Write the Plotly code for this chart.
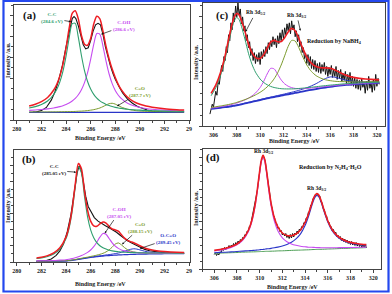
import plotly.graph_objects as go

W, H = 392, 294
FONT = "Liberation Serif"
RED = "#ee1d23"; BLACK = "#141414"; GREEN = "#2f9e6e"; MAGENTA = "#c64cf0"
OLIVE = "#7b9b2c"; BLUE = "#2a35c8"; DGREEN = "#4d9f55"; AX = "#444444"

# ---------------- panel (a) ----------------
a_x = [281.0, 281.5, 282.0, 282.5, 283.0, 283.25, 283.5, 283.75, 284.0, 284.25, 284.5, 284.75,
       285.0, 285.25, 285.5, 285.75, 286.0, 286.25, 286.5, 286.75, 287.0, 287.25, 287.5, 287.75,
       288.0, 288.25, 288.5, 289.0, 289.5, 290.0, 290.5, 291.0, 292.0, 293.0, 293.6]
a_base_x = [281.0, 293.6]
a_base = [7.3, 7.3]
a_cc = [11.5, 12.8, 14.9, 18.2, 24.4, 29.3, 36.5, 46.8, 61.1, 78.3, 92.1, 92.4, 79.0, 61.7, 47.3, 36.8,
        29.6, 24.5, 20.9, 18.3, 16.4, 14.9, 13.8, 12.9, 12.1, 11.5, 11.1, 10.3, 9.8, 9.4, 9.1, 8.9, 8.5, 8.3, 8.2]
a_coh = [9.2, 9.6, 10.0, 10.6, 11.5, 12.1, 12.8, 13.7, 14.8, 16.3, 18.2, 20.7, 24.2, 29.0, 35.8, 45.3,
         58.0, 72.4, 82.7, 82.0, 70.7, 56.3, 44.0, 34.8, 28.3, 23.7, 20.4, 16.1, 13.6, 12.0, 11.0, 10.3, 9.4, 8.8, 8.6]
a_co = [7.7, 7.7, 7.7, 7.7, 7.8, 7.8, 7.9, 7.9, 8.0, 8.0, 8.1, 8.2, 8.4, 8.5, 8.7, 9.0, 9.4, 9.9, 10.6,
        11.5, 12.8, 14.3, 15.6, 16.0, 15.2, 13.7, 12.3, 10.3, 9.2, 8.6, 8.3, 8.1, 7.9, 7.8, 7.7]
a_fit = [13.4, 15.1, 17.6, 21.5, 28.7, 34.2, 42.2, 53.4, 68.9, 87.6, 102.0, 104.5, 96.6, 81.0, 72.5, 71.5,
         78.0, 91.8, 99.2, 96.8, 84.9, 70.5, 58.4, 48.7, 40.6, 33.9, 28.8, 21.7, 17.6, 15.0, 13.4, 12.3, 10.8, 9.9, 9.5]
a_data_x = [281.3, 281.6, 282.0, 282.4, 282.8, 283.1, 283.4, 283.7, 284.0, 284.3, 284.5, 284.65, 284.8,
            285.0, 285.2, 285.4, 285.6, 285.8, 286.0, 286.2, 286.4, 286.6, 286.8, 287.0, 287.2, 287.4,
            287.6, 287.8, 288.0, 288.3, 288.6, 289.0, 289.4, 289.8, 290.2, 290.6, 291.0, 291.5, 292.0,
            292.5, 293.0, 293.5]
a_data = [7.5, 7.8, 9.0, 12.0, 19.0, 27.0, 38.0, 52.0, 70.0, 88.0, 97.0, 99.0, 97.0, 90.0, 80.0, 72.0,
          68.0, 69.0, 76.0, 85.0, 91.0, 92.5, 91.0, 82.0, 70.0, 60.0, 52.0, 45.0, 39.0, 32.0, 26.0, 20.0,
          16.0, 13.0, 11.0, 9.5, 8.5, 8.0, 7.6, 7.9, 7.4, 7.7]

# ---------------- panel (b) ----------------
b_x = [281.6, 282.0, 282.5, 283.0, 283.5, 284.0, 284.25, 284.5, 284.75, 285.0, 285.25, 285.5, 285.75,
       286.0, 286.25, 286.5, 286.75, 287.0, 287.25, 287.5, 287.75, 288.0, 288.25, 288.5, 288.75, 289.0,
       289.25, 289.5, 289.75, 290.0, 290.5, 291.0, 291.5, 292.0, 293.0, 293.6]
b_base = [0.7, 0.7, 0.7, 0.8, 0.9, 1.0, 1.3, 1.6, 2.1, 2.6, 3.1, 3.6, 4.0, 4.5, 4.9, 5.3, 5.6, 5.9,
          6.2, 6.4, 6.6, 6.8, 7.0, 7.1, 7.3, 7.4, 7.5, 7.6, 7.7, 7.8, 7.9, 8.0, 8.1, 8.2, 8.3, 8.3]
b_cc = [3.4, 4.1, 5.5, 8.0, 12.8, 23.3, 33.7, 50.5, 74.5, 94.4, 88.4, 65.0, 44.7, 31.8, 24.0, 19.2,
        16.1, 14.1, 12.8, 11.7, 11.0, 10.5, 10.2, 9.9, 9.7, 9.5, 9.4, 9.3, 9.2, 9.2, 9.0, 8.9, 8.9, 8.9, 8.8, 8.8]
b_coh = [1.1, 1.2, 1.3, 1.5, 1.9, 2.3, 2.8, 3.4, 4.2, 5.2, 6.4, 7.8, 9.5, 11.9, 15.2, 19.6, 24.6, 28.2,
         27.5, 23.3, 19.0, 15.7, 13.5, 12.0, 11.0, 10.4, 9.9, 9.6, 9.3, 9.2, 8.9, 8.8, 8.7, 8.7, 8.65, 8.6]
b_co = [0.8, 0.8, 0.85, 1.0, 1.1, 1.3, 1.6, 2.0, 2.5, 3.1, 3.7, 4.3, 4.8, 5.5, 6.1, 6.8, 7.6, 8.6, 10.0,
        12.0, 14.7, 17.8, 18.9, 17.0, 14.3, 12.2, 10.8, 10.0, 9.5, 9.2, 8.8, 8.6, 8.55, 8.5, 8.5, 8.5]
b_oco = [0.8, 0.8, 0.8, 0.9, 1.0, 1.1, 1.5, 1.8, 2.3, 2.8, 3.3, 3.9, 4.3, 4.8, 5.3, 5.8, 6.1, 6.5, 7.0,
         7.3, 7.8, 8.3, 8.9, 9.6, 10.6, 11.6, 12.6, 13.1, 12.8, 12.0, 10.4, 9.5, 9.0, 8.8, 8.6, 8.55]
b_fit = [4.0, 4.8, 6.3, 9.0, 14.1, 24.9, 35.7, 52.8, 77.2, 97.7, 92.5, 70.1, 51.3, 40.5, 35.8, 35.4,
         37.7, 39.7, 38.6, 35.2, 32.7, 31.8, 30.5, 27.1, 23.7, 21.4, 20.2, 19.1, 17.7, 16.1, 13.4, 11.8,
         10.9, 10.4, 9.7, 9.5]
b_data_x = [281.6, 282.0, 282.4, 282.8, 283.2, 283.5, 283.8, 284.1, 284.4, 284.7, 284.9, 285.05, 285.2,
            285.4, 285.6, 285.8, 286.0, 286.3, 286.6, 286.9, 287.2, 287.5, 287.8, 288.1, 288.4, 288.7,
            289.0, 289.3, 289.6, 290.0, 290.4, 290.8, 291.2, 291.6, 292.0, 292.5, 293.0, 293.6]
b_data = [0.7, 1.0, 1.5, 3.0, 6.5, 11.0, 18.0, 30.0, 47.0, 72.0, 88.0, 95.0, 93.0, 80.0, 65.0, 55.0,
          50.0, 44.0, 40.5, 38.0, 36.0, 34.0, 32.0, 29.5, 26.5, 23.5, 21.0, 19.0, 17.0, 14.5, 12.5,
          11.2, 10.3, 9.8, 9.3, 9.0, 8.8, 8.6]

# ---------------- panel (c) ----------------
c_x = [305.8, 306.2, 306.6, 307.0, 307.3, 307.6, 307.8, 308.0, 308.2, 308.4, 308.7, 309.0, 309.3,
       309.6, 310.0, 310.3, 310.6, 310.9, 311.2, 311.5, 311.8, 312.1, 312.4, 312.7, 313.0, 313.3,
       313.6, 314.0, 314.4, 314.8, 315.2, 315.6, 316.0, 316.4, 316.8, 317.2, 317.6, 318.0, 318.5,
       319.0, 319.5, 320.2]
c_base = [17.3, 17.8, 18.4, 19.0, 19.4, 20.0, 20.4, 20.9, 21.4, 21.9, 22.7, 23.5, 24.3, 25.1, 26.2,
          27.0, 27.8, 28.5, 29.2, 29.9, 30.6, 31.3, 32.0, 32.7, 33.3, 34.0, 34.7, 35.6, 36.5, 37.3,
          38.1, 38.8, 39.5, 40.1, 40.7, 41.2, 41.6, 42.0, 42.4, 42.8, 43.1, 43.4]
c_sat = [17.5, 18.0, 18.6, 19.2, 19.6, 20.2, 20.7, 21.2, 21.7, 22.2, 23.0, 23.8, 24.7, 25.5, 26.7,
         27.5, 28.4, 29.1, 29.9, 30.7, 31.5, 32.3, 33.2, 34.0, 34.9, 35.9, 37.0, 38.6, 40.5, 42.7,
         45.4, 47.9, 49.5, 49.2, 48.0, 46.6, 45.6, 45.0, 44.5, 44.4, 44.3, 44.3]
c_p1 = [30.5, 38.5, 50.5, 67.5, 83.5, 99.0, 106.5, 109.5, 107.2, 100.5, 87.5, 73.3, 62.3, 54.3, 47.3,
        43.9, 41.6, 39.9, 38.8, 38.1, 37.6, 37.4, 37.35, 37.4, 37.5, 37.8, 38.1, 38.6, 39.1, 39.6,
        40.2, 40.7, 41.2, 41.6, 42.1, 42.5, 42.8, 43.1, 43.4, 43.7, 43.9, 44.1]
c_p2 = [18.7, 19.4, 20.2, 21.0, 21.7, 22.5, 23.1, 23.8, 24.6, 25.4, 26.6, 28.0, 29.6, 31.3, 34.0,
        36.4, 39.4, 43.0, 47.6, 53.6, 61.4, 70.7, 80.2, 86.3, 85.7, 79.4, 71.1, 61.5, 54.9, 50.7,
        48.2, 46.6, 45.7, 45.1, 44.8, 44.7, 44.5, 44.5, 44.5, 44.6, 44.65, 44.7]
c_mid = [18.1, 18.7, 19.5, 20.3, 20.9, 21.8, 22.4, 23.1, 23.9, 24.8, 26.3, 28.1, 30.3, 33.2, 38.8,
         44.9, 52.4, 58.1, 57.6, 52.2, 46.5, 42.5, 40.1, 38.7, 37.9, 37.6, 37.6, 37.8, 38.3, 38.7,
         39.3, 39.8, 40.3, 40.8, 41.3, 41.75, 42.1, 42.4, 42.8, 43.1, 43.4, 43.65]
c_fit = [32.9, 41.2, 53.6, 71.0, 87.5, 103.0, 110.5, 113.5, 112.0, 106.0, 95.4, 82.8, 73.9, 69.0,
         68.1, 71.7, 78.3, 84.6, 86.3, 84.9, 85.1, 89.0, 94.8, 98.4, 96.1, 88.6, 79.7, 69.6, 63.2,
         59.9, 58.7, 58.6, 58.2, 56.5, 54.1, 51.9, 50.2, 49.0, 48.0, 47.4, 47.0, 46.5]
c_data_start, c_data_step = 305.7, 0.1
c_data = [12, 16, 22, 19, 28, 35, 31, 44, 42, 51,
          61, 55, 70, 66, 80, 74, 92, 86, 104, 97,
          114, 105, 121, 110, 124, 112, 118, 103, 110, 96,
          101, 86, 92, 79, 85, 71, 78, 66, 74, 63,
          72, 65, 74, 62, 75, 68, 77, 70, 80, 73,
          84, 77, 86, 80, 90, 82, 88, 79, 91, 83,
          94, 86, 97, 88, 99, 92, 103, 96, 104, 93,
          106, 97, 102, 90, 96, 85, 92, 80, 85, 74,
          79, 68, 73, 63, 72, 61, 70, 58, 67, 57,
          66, 55, 63, 54, 64, 53, 62, 55, 64, 52,
          60, 50, 59, 52, 61, 49, 57, 50, 60, 47,
          56, 48, 57, 45, 53, 46, 55, 43, 52, 44,
          54, 41, 50, 40, 49, 38, 47, 37, 46, 36,
          48, 39, 44, 33, 45, 36, 50, 38, 44, 34,
          47, 36, 52, 40, 48, 42]

# ---------------- panel (d) ----------------
d_x = [306.0, 306.5, 307.0, 307.5, 308.0, 308.5, 309.0, 309.3, 309.6, 309.8, 310.0, 310.15, 310.3,
       310.45, 310.6, 310.8, 311.0, 311.3, 311.6, 312.0, 312.4, 312.8, 313.2, 313.6, 314.0, 314.3,
       314.6, 314.8, 315.0, 315.2, 315.4, 315.7, 316.0, 316.4, 316.8, 317.2, 317.6, 318.0, 318.5,
       319.0, 319.4]
d_base = [15.7, 15.9, 16.1, 16.3, 16.5, 16.8, 17.0, 17.1, 17.2, 17.3, 17.4, 17.5, 17.5, 17.6, 17.7,
          17.7, 17.8, 17.9, 18.1, 18.2, 18.4, 18.6, 18.8, 18.9, 19.1, 19.2, 19.4, 19.5, 19.5, 19.6,
          19.7, 19.8, 20.0, 20.1, 20.3, 20.5, 20.6, 20.8, 21.0, 21.2, 21.4]
d_p1 = [18.0, 18.8, 19.9, 21.5, 24.1, 28.5, 37.2, 46.8, 62.8, 78.3, 96.1, 107.1, 111.5, 107.2, 96.4,
        78.7, 63.4, 47.6, 38.3, 31.2, 27.3, 25.1, 23.7, 22.7, 22.2, 21.8, 21.7, 21.6, 21.4, 21.4,
        21.3, 21.3, 21.3, 21.25, 21.3, 21.4, 21.4, 21.5, 21.6, 21.8, 21.9]
d_p2 = [16.3, 16.6, 16.8, 17.1, 17.5, 17.9, 18.3, 18.5, 18.8, 19.0, 19.2, 19.5, 19.6, 19.8, 20.1,
        20.3, 20.6, 21.2, 21.9, 23.0, 24.6, 26.8, 30.1, 35.1, 43.4, 52.5, 63.5, 70.0, 73.4, 72.3,
        67.2, 56.6, 47.0, 38.0, 32.6, 29.3, 27.2, 25.9, 24.8, 24.15, 23.9]
d_fit = [18.6, 19.5, 20.7, 22.4, 25.0, 29.7, 38.5, 48.3, 64.4, 80.0, 97.9, 109.1, 113.6, 109.4, 98.8,
         81.3, 66.2, 50.9, 42.1, 36.0, 33.5, 33.2, 35.0, 38.9, 46.5, 55.1, 65.8, 72.1, 75.3, 74.1,
         68.8, 58.1, 48.3, 39.2, 33.6, 30.2, 28.0, 26.6, 25.5, 24.7, 24.4]
d_data_start, d_data_step = 306.0, 0.1
d_data = [14.5, 16.0, 13.5, 15.5, 14.0, 17.0, 16.5, 20.5, 18.5, 21.5,
          19.0, 22.0, 20.5, 23.5, 21.0, 24.0, 22.0, 25.5, 23.0, 26.5,
          24.5, 28.0, 25.5, 29.5, 27.5, 31.5, 30.0, 34.5, 33.5, 38.0,
          37.5, 43.0, 44.0, 49.5, 53.0, 60.0, 64.0, 73.0, 79.0, 90.0,
          97.0, 106.0, 110.0, 113.5, 111.0, 107.5, 98.0, 91.0, 80.0, 74.5,
          64.5, 61.0, 54.0, 52.0, 46.0, 45.5, 40.5, 41.5, 37.0, 38.5,
          34.0, 36.0, 33.0, 35.5, 31.5, 34.0, 30.5, 34.5, 31.0, 35.5,
          32.0, 36.0, 34.0, 38.0, 35.5, 40.0, 38.0, 42.5, 41.5, 46.5,
          46.0, 51.0, 51.5, 57.0, 58.0, 64.0, 65.0, 70.5, 71.5, 74.5,
          73.5, 75.5, 72.5, 73.0, 67.0, 66.5, 60.5, 59.5, 54.0, 53.0,
          47.5, 47.0, 43.0, 42.5, 38.0, 39.5, 35.5, 37.0, 32.5, 34.0,
          30.5, 32.5, 28.5, 31.0, 27.5, 30.0, 26.5, 29.0, 25.5, 28.0,
          24.5, 27.5, 24.0, 26.5, 23.5, 26.5, 23.0, 25.5, 22.5, 25.0,
          21.5, 24.5, 22.0, 25.0, 21.0]

c_data_x = [round(c_data_start + c_data_step * i, 2) for i in range(len(c_data))]
d_data_x = [round(d_data_start + d_data_step * i, 2) for i in range(len(d_data))]

ticks_ab = [280, 282, 284, 286, 288, 290, 292, 294]
ticks_ab_text = ["280", "282", "284", "286", "288", "290", "292", "29"]
ticks_cd = [306, 308, 310, 312, 314, 316, 318, 320]
ticks_cd_text = ["306", "308", "310", "312", "314", "316", "318", "320"]

fig = go.Figure()


def line(x, y, color, width, axes, shape="spline"):
    fig.add_trace(go.Scatter(x=x, y=y, mode="lines", xaxis=axes[0], yaxis=axes[1],
                             line=dict(color=color, width=width, shape=shape, smoothing=0.7),
                             hoverinfo="skip", showlegend=False))


A, C, B, D = ("x", "y"), ("x2", "y2"), ("x3", "y3"), ("x4", "y4")

# (a)
line(a_data_x, a_data, BLACK, 1.1, A, "linear")
line(a_base_x, a_base, BLUE, 1.2, A, "linear")
line(a_x, a_co, OLIVE, 1.0, A)
line(a_x, a_coh, MAGENTA, 1.1, A)
line(a_x, a_cc, GREEN, 1.1, A)
line(a_x, a_fit, RED, 1.5, A)
# (b)
line(b_data_x, b_data, BLACK, 1.1, B, "linear")
line(b_x, b_base, BLUE, 1.2, B)
line(b_x, b_oco, BLUE, 1.0, B)
line(b_x, b_co, OLIVE, 1.0, B)
line(b_x, b_coh, MAGENTA, 1.1, B)
line(b_x, b_cc, GREEN, 1.1, B)
line(b_x, b_fit, RED, 1.5, B)
# (c)
line(c_data_x, c_data, BLACK, 1.0, C, "linear")
line(c_x, c_base, BLUE, 1.8, C)
line(c_x, c_sat, BLUE, 1.0, C)
line(c_x, c_mid, MAGENTA, 1.0, C)
line(c_x, c_p2, OLIVE, 1.0, C)
line(c_x, c_p1, GREEN, 1.0, C)
line(c_x, c_fit, RED, 1.6, C)
# (d)
line(d_data_x, d_data, BLACK, 1.0, D, "linear")
line(d_x, d_base, DGREEN, 1.0, D)
line(d_x, d_p2, BLUE, 1.1, D)
line(d_x, d_p1, MAGENTA, 1.1, D)
line(d_x, d_fit, RED, 1.6, D)


def dx(p0, p1):
    return [p0 / W, p1 / W]


def dy(p0, p1):
    return [1 - p1 / H, 1 - p0 / H]


tickfont = dict(family=FONT, size=6, color="#222222", weight="bold")


def xaxis(domain, rng, anchor, tv, tt, tick0):
    return dict(domain=domain, range=rng, anchor=anchor, tickmode="array", tickvals=tv, ticktext=tt,
                ticks="outside", ticklen=3, tickwidth=0.8, tickcolor=AX, showline=True, linecolor=AX,
                linewidth=1, mirror=True, showgrid=False, zeroline=False, tickfont=tickfont,
                minor=dict(tickmode="linear", tick0=tick0, dtick=2, ticks="outside", ticklen=2,
                           tickcolor=AX, tickwidth=0.8))


def yaxis(domain, rng, anchor, dt):
    return dict(domain=domain, range=rng, anchor=anchor, showticklabels=False, tickmode="linear",
                tick0=0, dtick=dt, ticks="outside", ticklen=3, tickwidth=0.8, tickcolor=AX,
                showline=True, linecolor=AX, linewidth=1, mirror=True, showgrid=False, zeroline=False,
                minor=dict(tickmode="linear", tick0=dt / 2, dtick=dt, ticks="outside", ticklen=2,
                           tickcolor=AX, tickwidth=0.8))


fig.update_layout(
    width=W, height=H, margin=dict(l=0, r=0, t=0, b=0, pad=0),
    paper_bgcolor="white", plot_bgcolor="white", showlegend=False,
    xaxis=xaxis(dx(12, 190), [279.76, 294.08], "y", ticks_ab, ticks_ab_text, 281),
    yaxis=yaxis(dy(5, 120), [0, 110], "x", 20),
    xaxis2=xaxis(dx(203, 387), [305.1, 320.7], "y2", ticks_cd, ticks_cd_text, 307),
    yaxis2=yaxis(dy(3, 126), [0, 124], "x2", 22),
    xaxis3=xaxis(dx(12, 190), [279.76, 294.08], "y3", ticks_ab, ticks_ab_text, 281),
    yaxis3=yaxis(dy(150, 262), [0, 111], "x3", 16),
    xaxis4=xaxis(dx(203, 383), [305.0, 320.7], "y4", ticks_cd, ticks_cd_text, 307),
    yaxis4=yaxis(dy(149, 269), [0, 120], "x4", 16),
)

ann = []


def txt(x, y, text, color="#111111", size=5, axes=A):
    ann.append(dict(x=x, y=y, xref=axes[0], yref=axes[1], text=text, showarrow=False,
                    font=dict(family=FONT, size=size, color=color, weight="bold"),
                    xanchor="center", yanchor="middle"))


def label_arrow(text, tx, ty, hx, hy, axes, color="#111111", size=5):
    # text is centred at (tx, ty); the arrow runs from the text to (hx, hy)
    ann.append(dict(x=hx, y=hy, ax=tx, ay=ty, xref=axes[0], yref=axes[1], axref=axes[0],
                    ayref=axes[1], text=text, showarrow=True, arrowhead=2, arrowsize=0.6,
                    arrowwidth=0.7, arrowcolor="#111111", standoff=0,
                    font=dict(family=FONT, size=size, color=color, weight="bold")))


def ptxt(px, py, text, size=6, angle=0):
    ann.append(dict(x=px / W, y=1 - py / H, xref="paper", yref="paper", text=text, showarrow=False,
                    textangle=angle, font=dict(family=FONT, size=size, color="#222222", weight="bold"),
                    xanchor="center", yanchor="middle"))


# (a)
txt(281.0, 100, "(a)", size=11, axes=A)
label_arrow("C-C<br>(284.6 eV)", 282.85, 97.2, 284.4, 94, A, GREEN)
label_arrow("C-OH<br>(286.6 eV)", 288.7, 89.8, 286.85, 82, A, MAGENTA)
label_arrow("C=O<br>(287.7 eV)", 290.05, 26.8, 288.15, 13.3, A, OLIVE)
# (b)
txt(281.0, 102, "(b)", size=11, axes=B)
label_arrow("C-C<br>(285.05 eV)", 283.0, 90.8, 284.82, 89, B)
label_arrow("C-OH<br>(287.05 eV)", 288.3, 49.0, 287.15, 28.5, B, MAGENTA)
label_arrow("C=O<br>(288.15 eV)", 290.05, 34.0, 288.55, 17.5, B, OLIVE)
label_arrow("O-C=O<br>(289.45 eV)", 292.3, 22.7, 290.0, 13.3, B, BLUE)
# (c)
txt(306.75, 111.7, "(c)", size=11, axes=C)
label_arrow("Rh 3d<sub>5/2</sub>", 309.6, 114, 308.75, 95, C, size=5.5)
label_arrow("Rh 3d<sub>3/2</sub>", 313.15, 111.5, 313.45, 96, C, size=5.5)
txt(316.4, 85, "Reduction by NaBH<sub>4</sub>", size=6, axes=C)
# (d)
txt(305.85, 112, "(d)", size=11, axes=D)
txt(310.3, 117.5, "Rh 3d<sub>5/2</sub>", size=5.5, axes=D)
txt(316.2, 102, "Reduction by N<sub>2</sub>H<sub>4</sub>·H<sub>2</sub>O", size=6, axes=D)
txt(315.0, 81, "Rh 3d<sub>3/2</sub>", size=5.5, axes=D)

# axis titles
ptxt(100, 138, "Binding Energy /eV")
ptxt(296, 141, "Binding Energy /eV")
ptxt(100, 284, "Binding Energy /eV")
ptxt(293, 287, "Binding Energy /eV")
ptxt(6, 60, "Intensity /a.u.", angle=-90)
ptxt(196, 62, "Intensity /a.u.", angle=-90)
ptxt(6, 205, "Intensity /a.u.", angle=-90)
ptxt(196, 208, "Intensity /a.u.", angle=-90)

fig.update_layout(annotations=ann)
fig.add_shape(type="rect", xref="paper", yref="paper", x0=1.5 / W, y0=1 - 291.5 / H, x1=390.5 / W,
              y1=1 - 0.8 / H, line=dict(color="#2448ee", width=2.2), fillcolor="rgba(0,0,0,0)", layer="above")

fig.write_html("out.html", config={"displayModeBar": False},
               post_script="document.body.style.margin='0px';document.body.style.overflow='hidden';")
